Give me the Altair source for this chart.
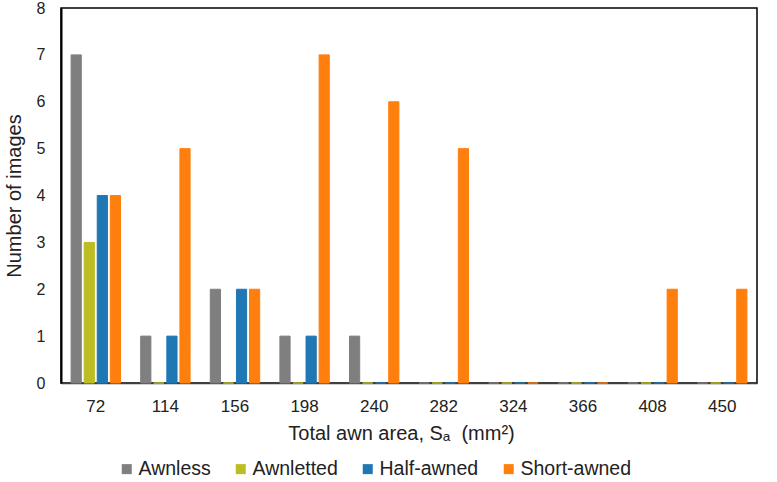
import altair as alt
import pandas as pd

# Bin centres of total awn area (mm²)
areas = ["72", "114", "156", "198", "240", "282", "324", "366", "408", "450"]
series = ["Awnless", "Awnletted", "Half-awned", "Short-awned"]
colors = ["#7f7f7f", "#bcbd22", "#1f77b4", "#ff7f0e"]

awnless = [7, 1, 2, 1, 1, 0, 0, 0, 0, 0]
awnletted = [3, 0, 0, 0, 0, 0, 0, 0, 0, 0]
half_awned = [4, 1, 2, 1, 0, 0, 0, 0, 0, 0]
short_awned = [4, 5, 2, 7, 6, 5, 0, 0, 2, 2]

rows = []
for name, vals in zip(series, [awnless, awnletted, half_awned, short_awned]):
    for a, v in zip(areas, vals):
        rows.append({"area": a, "type": name, "count": v})
df = pd.DataFrame(rows)

FONT = "Liberation Sans"
TXT = "#222222"

color_scale = alt.Scale(domain=series, range=colors)

bars = alt.Chart(df).mark_bar(strokeWidth=1).encode(
    x=alt.X(
        "area:N",
        sort=areas,
        scale=alt.Scale(domain=areas, paddingInner=0.29, paddingOuter=0.145),
        axis=alt.Axis(
            title="Total awn area, Sₐ\u00a0\u00a0(mm²)",
            labelAngle=0,
            labelFontSize=17,
            labelColor=TXT,
            labelPadding=15,
            ticks=False,
            domainColor="#404040",
            domainWidth=1.5,
            titleFontSize=20,
            titleFontWeight="normal",
            titleColor=TXT,
            titlePadding=9,
            titleX=340,
        ),
    ),
    xOffset=alt.XOffset("type:N", sort=series,
                        scale=alt.Scale(domain=series, paddingInner=0.22)),
    y=alt.Y(
        "count:Q",
        scale=alt.Scale(domain=[0, 8]),
        axis=alt.Axis(
            title="Number of images",
            values=list(range(0, 9)),
            labelOverlap=False,
            grid=False,
            ticks=False,
            labelFontSize=16,
            labelColor=TXT,
            labelPadding=16,
            domainColor="black",
            domainWidth=2,
            titleFontSize=20,
            titleFontWeight="normal",
            titleColor=TXT,
            titlePadding=12,
        ),
    ),
    stroke=alt.Stroke("type:N", sort=series, scale=color_scale, legend=None),
    color=alt.Color(
        "type:N",
        sort=series,
        scale=color_scale,
        legend=alt.Legend(
            title=None,
            orient="none",
            direction="horizontal",
            legendX=56,
            legendY=451,
            symbolType="square",
            symbolSize=100,
            symbolStrokeWidth=0,
            labelFontSize=19.5,
            labelColor=TXT,
            columnPadding=20,
            labelOffset=2,
        ),
    ),
)

chart = (
    bars.properties(width=696, height=375)
    .configure(font=FONT, autosize=alt.AutoSizeParams(type="none"),
               padding={"left": 61, "top": 8, "right": 20, "bottom": 99})
    .configure_view(stroke="black", strokeWidth=1.5)
    .configure_axis(labelFont=FONT, titleFont=FONT)
    .configure_legend(labelFont=FONT)
)

chart.save("out.html", embed_options={"renderer": "svg", "actions": False})
